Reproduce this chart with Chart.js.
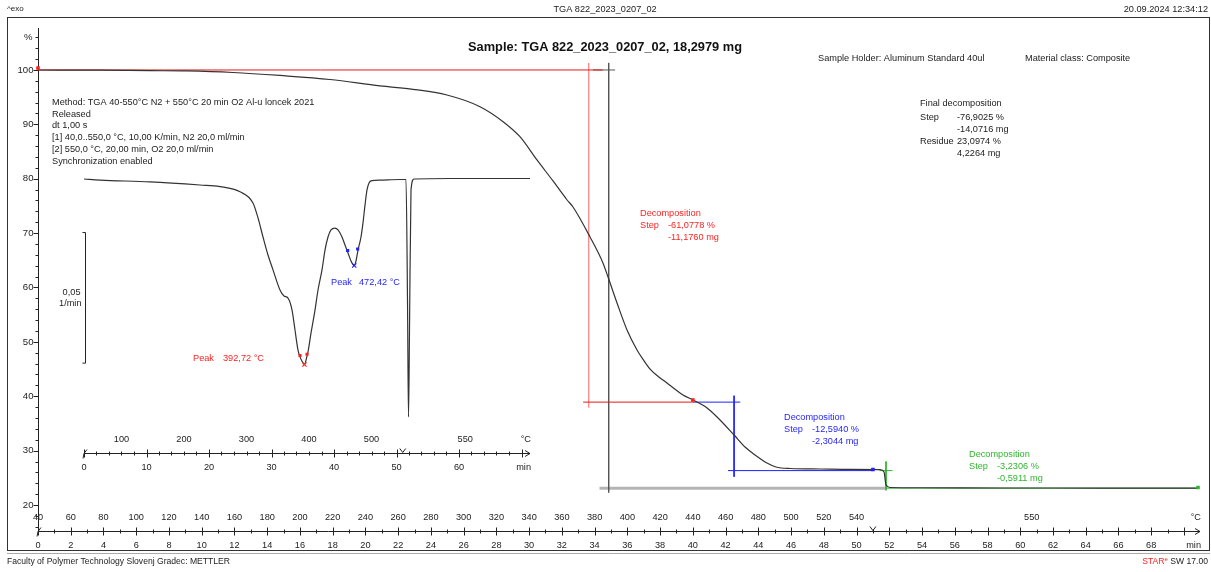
<!DOCTYPE html>
<html>
<head>
<meta charset="utf-8">
<script src="https://cdn.jsdelivr.net/npm/chart.js@4/dist/chart.umd.min.js"></script>
<style>
  html, body { margin: 0; padding: 0; background: #fff; }
  #wrap { position: relative; width: 1211px; height: 572px; }
  canvas { display: block; }
</style>
</head>
<body>
<div id="wrap"><canvas id="tga" width="1211" height="572"></canvas></div>
<script>
// ---- TGA mass curve: time (min) and mass (%) ----
const tgaTime = [0, 3.79, 6.84, 9.10, 11.91, 14.78, 17.84, 20.89, 22.91, 24.98,
  27.00, 28.41, 29.44, 30.48, 31.46, 32.32, 32.68, 33.72, 34.51, 34.82,
  35.37, 35.98, 36.59, 37.0, 37.39, 37.9, 38.42, 39.40, 40.01, 40.87,
  41.48, 42.52, 43.19, 43.80, 44.53, 45.08, 45.94, 47.77, 49.60, 51.44,
  51.68, 51.80, 52.05, 53.88, 58.77, 64.87, 70.86];
const tgaMass = [100, 99.96, 99.87, 99.82, 99.54, 98.99, 98.25, 97.06, 96.45, 95.40,
  93.25, 90.49, 87.73, 83.45, 79.59, 76.09, 74.80, 69.29, 64.51, 61.93,
  57.15, 52.18, 48.51, 46.6, 45.0, 43.6, 42.44, 40.23, 39.31, 37.84,
  36.18, 32.87, 30.67, 29.20, 27.72, 26.99, 26.71, 26.62, 26.56, 26.52,
  26.07, 23.68, 23.22, 23.17, 23.13, 23.12, 23.10];

// ---- DTG curve (inset): time (min) and rate (1/min) ----
const dtgTime = [0, 2.56, 10.56, 18.56, 21.76, 24.96, 27.04, 27.84, 28.64, 29.44,
  30.24, 31.36, 32.0, 32.64, 33.28, 33.76, 34.24, 34.56, 35.04, 35.27,
  35.68, 35.84, 36.32, 36.96, 37.44, 38.08, 38.56, 39.04, 39.52, 40.16,
  40.64, 41.28, 41.76, 42.24, 42.72, 43.24, 43.52, 43.84, 44.32, 44.64,
  44.96, 45.28, 45.6, 46.08, 47.36, 50.56, 51.52, 51.76, 51.92, 52.08,
  52.32, 52.8, 58.56, 71.36];
const dtgRate = [0, -0.0004, -0.0011, -0.0023, -0.0029, -0.0049, -0.0092, -0.0149, -0.0222, -0.0291,
  -0.0348, -0.0425, -0.0448, -0.0456, -0.0501, -0.0578, -0.0655, -0.0681, -0.0704, -0.0710,
  -0.0678, -0.0662, -0.0590, -0.0502, -0.0425, -0.0348, -0.0272, -0.0222, -0.0195, -0.0188,
  -0.0195, -0.0222, -0.0253, -0.0283, -0.0314, -0.0331, -0.0314, -0.0272, -0.0222, -0.0168,
  -0.0100, -0.0042, -0.0015, -0.0006, -0.0004, -0.0002, -0.0002, -0.0463, -0.0911, -0.0578,
  -0.0042, 0, 0.0002, 0.0002];

// ---- evaluation results ----
const stepPercent = [-61.0778, -12.5940, -3.2306];
const stepMg = [-11.1760, -2.3044, -0.5911];
const finalStep = [-76.9025, -14.0716];
const residue = [23.0974, 4.2264];
const stepLimitTime = [0, 40.0, 51.0, 70.86];        // evaluation limits (min)
const stepLimitMass = [100.35, 39.31, 26.55, 23.20];  // curve value at the limits (%)
const peakTemps = [392.72, 472.42];                   // °C
const peakRates = [-0.0710, -0.0331];                 // 1/min
const peakFlagsRed = [[34.56, -0.0676], [35.68, -0.0671]];
const peakFlagsBlue = [[42.19, -0.0274], [43.79, -0.0268]];

// level after each step
const level1 = 100 + stepPercent[0];
const level2 = level1 + stepPercent[1];
const level3 = level2 + stepPercent[2];

// evaluation construction lines [time, mass]
const redLines = [[[0, 100], [34.5, 100]], [[33.3, level1], [40.0, level1]]];
const redLimitLines = [[[33.64, 101.3], [33.64, 37.9]]];
const blackLines = [[[33.9, 100], [35.25, 100]], [[34.86, 101.3], [34.86, 22.3]]];
const grayLines = [[[34.3, level3], [51.8, level3]]];
const blueLines = [[[40.0, level1], [42.9, level1]], [[42.52, 40.1], [42.52, 25.2]], [[42.15, level2], [51.0, level2]]];
const greenLines = [[[51.4, level2], [52.2, level2]], [[51.8, 28.0], [51.8, 22.7]], [[51.8, level3], [70.86, level3]]];

// axis ticks
const massTicks = [20, 30, 40, 50, 60, 70, 80, 90, 100];
const mainMinuteLabels = Array.from({length: 35}, (_, i) => i * 2);          // 0 … 68
const mainTempLabels = Array.from({length: 26}, (_, i) => 40 + i * 20);      // 40 … 540
const insetMinuteLabels = [0, 10, 20, 30, 40, 50, 60];
const insetTempLabels = [100, 200, 300, 400, 500];
const heatingRate = 10;     // K/min
const startTemp = 40;       // °C
const isoTemp = 550;        // °C

const FONT = '"Liberation Sans", Arial, sans-serif';
const TXT = '9.2px ' + FONT;
const RED = '#ff1f1f', BLUE = '#1f1fff', GREEN = '#2fb52f', INK = '#222';

const tempToTime = T => (T - startTemp) / heatingRate;

function seg(points, color, width, order) {
  return {
    data: points.map(p => ({x: p[0], y: p[1]})),
    borderColor: color, borderWidth: width, pointRadius: 0, tension: 0,
    order: order, xAxisID: 'x', yAxisID: 'y', clip: false
  };
}
function marks(points, color, style, r, xa, ya) {
  return {
    data: points.map(p => ({x: p[0], y: p[1]})),
    showLine: false, pointStyle: style, pointRadius: r, pointBorderWidth: 1.1,
    pointBackgroundColor: color, pointBorderColor: color,
    order: -1, xAxisID: xa, yAxisID: ya, clip: false
  };
}

const datasets = [
  {
    label: 'TGA', data: tgaTime.map((t, i) => ({x: t, y: tgaMass[i]})),
    borderColor: '#333', borderWidth: 1.2, pointRadius: 0,
    cubicInterpolationMode: 'monotone', order: 0, xAxisID: 'x', yAxisID: 'y'
  },
  {
    label: 'DTG', data: dtgTime.map((t, i) => ({x: t, y: dtgRate[i]})),
    borderColor: '#333', borderWidth: 1.2, pointRadius: 0,
    cubicInterpolationMode: 'monotone', order: 0, xAxisID: 'xi', yAxisID: 'yi', clip: false
  },
  ...grayLines.map(l => seg(l, '#b4b4b4', 3, 12)),
  ...redLines.map(l => seg(l, '#e81818', 1, 10)),
  ...redLimitLines.map(l => seg(l, 'rgba(255,40,40,0.6)', 1.2, 10)),
  ...blackLines.map(l => seg(l, '#555', 1, 10)),
  ...blueLines.map(l => seg(l, BLUE, 1, 10)),
  ...greenLines.map(l => seg(l, GREEN, 1, 10)),
  marks([[stepLimitTime[0], stepLimitMass[0]], [stepLimitTime[1], stepLimitMass[1]]], RED, 'rect', 1.7, 'x', 'y'),
  marks([[stepLimitTime[2], stepLimitMass[2]]], BLUE, 'rect', 1.7, 'x', 'y'),
  marks([[stepLimitTime[3], stepLimitMass[3]]], GREEN, 'rect', 1.7, 'x', 'y'),
  marks([[tempToTime(peakTemps[0]), peakRates[0]]], RED, 'crossRot', 3, 'xi', 'yi'),
  marks(peakFlagsRed, RED, 'rect', 1.4, 'xi', 'yi'),
  marks([[tempToTime(peakTemps[1]), peakRates[1]]], BLUE, 'crossRot', 3, 'xi', 'yi'),
  marks(peakFlagsBlue, BLUE, 'rect', 1.4, 'xi', 'yi')
];

function line(ctx, x1, y1, x2, y2) {
  ctx.beginPath(); ctx.moveTo(x1, y1); ctx.lineTo(x2, y2); ctx.stroke();
}
function text(ctx, s, x, y, align, color, font) {
  ctx.font = font || TXT;
  ctx.fillStyle = color || INK;
  ctx.textAlign = align || 'left';
  ctx.textBaseline = 'middle';
  ctx.fillText(s, x, y);
}

// time axis with temperature labels above and minutes below
function drawTimeAxis(ctx, scale, ay, tEnd, minuteLabels, tempLabels, isoAt, lastMinute, breakAt) {
  const x0 = scale.getPixelForValue(0), x1 = scale.getPixelForValue(tEnd);
  ctx.strokeStyle = INK; ctx.lineWidth = 1;
  line(ctx, x0, ay, x1, ay);
  line(ctx, x1, ay, x1 - 5, ay - 3); line(ctx, x1, ay, x1 - 5, ay + 3);
  line(ctx, x0, ay, x0 + 3, ay - 4); line(ctx, x0, ay, x0 - 1, ay + 5);
  const step = minuteLabels[1] - minuteLabels[0];
  const minor = step === 2 ? 1 : 2;
  for (let t = 0; t <= lastMinute + 1e-9; t += minor) {
    const px = Math.round(scale.getPixelForValue(t)) + 0.5;
    const major = Math.abs(t / step - Math.round(t / step)) < 1e-6;
    if (major) line(ctx, px, ay - 4, px, ay + 4); else line(ctx, px, ay - 2, px, ay + 2);
  }
  const bx = scale.getPixelForValue(breakAt);
  line(ctx, bx - 3, ay - 5, bx, ay - 1); line(ctx, bx + 3, ay - 5, bx, ay - 1);
  tempLabels.forEach(T => text(ctx, String(T), scale.getPixelForValue(tempToTime(T)), ay - 14, 'center'));
  text(ctx, String(isoTemp), scale.getPixelForValue(isoAt), ay - 14, 'center');
  text(ctx, '°C', x1 + 1, ay - 14, 'right');
  minuteLabels.forEach(m => text(ctx, String(m), scale.getPixelForValue(m), ay + 14, 'center'));
  text(ctx, 'min', x1 + 1, ay + 14, 'right');
}

const sheetPlugin = {
  id: 'sheet',
  beforeDatasetsDraw(chart) {
    const ctx = chart.ctx;
    const {x, y, xi, yi} = chart.scales;
    const area = chart.chartArea;
    ctx.save();
    // page frame
    ctx.strokeStyle = '#333'; ctx.lineWidth = 1;
    ctx.strokeRect(7.5, 17.5, 1202, 533);
    ctx.strokeStyle = '#aaa';
    line(ctx, 7, 553.5, 1210, 553.5);

    // mass axis
    ctx.strokeStyle = INK;
    const ax = Math.round(x.getPixelForValue(0)) + 0.5;
    line(ctx, ax, area.top, ax, area.bottom);
    for (let v = 16; v <= 106; v += 2) {
      const py = Math.round(y.getPixelForValue(v)) + 0.5;
      line(ctx, ax - (v % 10 === 0 ? 5 : 3), py, ax, py);
    }
    massTicks.forEach(v => text(ctx, String(v), ax - 5, y.getPixelForValue(v), 'right', INK, '9.6px ' + FONT));
    text(ctx, '%', ax - 6, y.getPixelForValue(106), 'right', INK, '9.6px ' + FONT);

    // main time axis
    drawTimeAxis(ctx, x, area.bottom + 0.5, x.max, mainMinuteLabels, mainTempLabels, 60.7, 70, 51);

    // inset time axis
    drawTimeAxis(ctx, xi, 453.5, 71.36, insetMinuteLabels, insetTempLabels, 61, 70, 51);

    // inset rate scale bar: 0,05 1/min
    const sx = Math.round(xi.getPixelForValue(0)) + 1.5;
    const sTop = yi.getPixelForValue(-0.0205), sBot = yi.getPixelForValue(-0.0705);
    line(ctx, sx, sTop, sx, sBot);
    line(ctx, sx - 3, sTop, sx, sTop); line(ctx, sx - 3, sBot, sx, sBot);
    text(ctx, '0,05', sx - 5, (sTop + sBot) / 2 - 5, 'right');
    text(ctx, '1/min', sx - 4, (sTop + sBot) / 2 + 6, 'right');
    ctx.restore();
  },
  afterDatasetsDraw(chart) {
    const ctx = chart.ctx;
    ctx.save();
    // header
    text(ctx, '^exo', 7, 9, 'left', INK, '8px ' + FONT);
    text(ctx, 'TGA 822_2023_0207_02', 605, 9, 'center');
    text(ctx, '20.09.2024 12:34:12', 1208, 9, 'right');
    text(ctx, 'Sample: TGA 822_2023_0207_02, 18,2979 mg', 605, 47, 'center', '#111', 'bold 12.8px ' + FONT);
    text(ctx, 'Sample Holder: Aluminum Standard 40ul', 818, 58, 'left');
    text(ctx, 'Material class: Composite', 1025, 58, 'left');

    // method block
    const method = ['Method: TGA 40-550°C N2 + 550°C 20 min O2 Al-u loncek 2021', 'Released', 'dt 1,00 s',
      '[1] 40,0..550,0 °C, 10,00 K/min, N2 20,0 ml/min', '[2] 550,0 °C, 20,00 min, O2 20,0 ml/min',
      'Synchronization enabled'];
    method.forEach((s, i) => text(ctx, s, 52, 102.5 + i * 11.7, 'left'));

    // final decomposition
    const fmt = v => v.toFixed(4).replace('.', ',');
    text(ctx, 'Final decomposition', 920, 103, 'left');
    text(ctx, 'Step', 920, 117, 'left');
    text(ctx, fmt(finalStep[0]) + ' %', 957, 117, 'left');
    text(ctx, fmt(finalStep[1]) + ' mg', 957, 129, 'left');
    text(ctx, 'Residue', 920, 141, 'left');
    text(ctx, fmt(residue[0]) + ' %', 957, 141, 'left');
    text(ctx, fmt(residue[1]) + ' mg', 957, 153, 'left');

    // step annotations
    const stepText = (color, x0, y0, i) => {
      text(ctx, 'Decomposition', x0, y0, 'left', color);
      text(ctx, 'Step', x0, y0 + 12, 'left', color);
      text(ctx, fmt(stepPercent[i]) + ' %', x0 + 28, y0 + 12, 'left', color);
      text(ctx, fmt(stepMg[i]) + ' mg', x0 + 28, y0 + 24, 'left', color);
    };
    stepText(RED, 640, 213, 0);
    stepText(BLUE, 784, 417, 1);
    stepText(GREEN, 969, 454, 2);

    // peak labels
    const pf = v => v.toFixed(2).replace('.', ',') + ' °C';
    text(ctx, 'Peak', 193, 358, 'left', RED);
    text(ctx, pf(peakTemps[0]), 223, 358, 'left', RED);
    text(ctx, 'Peak', 331, 282, 'left', BLUE);
    text(ctx, pf(peakTemps[1]), 359, 282, 'left', BLUE);

    // footer
    text(ctx, 'Faculty of Polymer Technology Slovenj Gradec: METTLER', 7, 562, 'left', INK, '8.6px ' + FONT);
    ctx.font = '8.6px ' + FONT;
    const tail = ' SW 17.00';
    const wTail = ctx.measureText(tail).width;
    text(ctx, tail, 1208, 562, 'right', INK, '8.6px ' + FONT);
    ctx.font = '6px ' + FONT;
    const wE = ctx.measureText('e').width;
    text(ctx, 'e', 1208 - wTail - wE, 559, 'left', RED, '6px ' + FONT);
    text(ctx, 'STAR', 1208 - wTail - wE, 562, 'right', RED, '8.6px ' + FONT);
    ctx.restore();
  }
};

new Chart(document.getElementById('tga'), {
  type: 'line',
  data: { datasets },
  options: {
    responsive: false,
    animation: false,
    devicePixelRatio: 1,
    events: [],
    layout: { padding: { left: 38, right: 11, top: 28, bottom: 41 } },
    plugins: { legend: { display: false }, tooltip: { enabled: false } },
    scales: {
      x:  { type: 'linear', min: 0, max: 70.98, display: false },
      y:  { type: 'linear', min: 15.22, max: 107.72, display: false },
      xi: { type: 'linear', min: -7.36, max: 178.56, display: false },
      yi: { type: 'linear', min: -0.13476, max: 0.05781, display: false }
    }
  },
  plugins: [sheetPlugin]
});
</script>
</body>
</html>
